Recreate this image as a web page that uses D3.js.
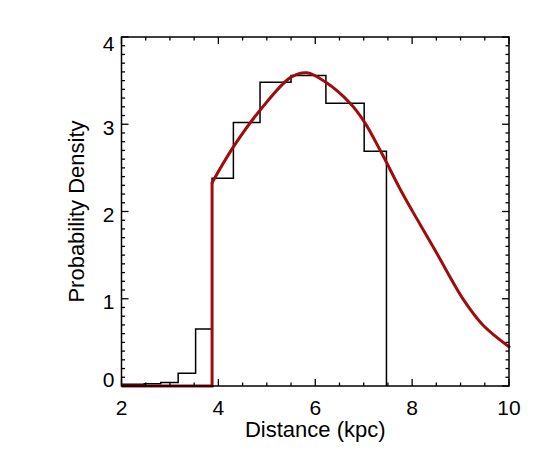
<!DOCTYPE html>
<html>
<head>
<meta charset="utf-8">
<script src="https://cdn.jsdelivr.net/npm/d3@7"></script>
<style>
  body { margin: 0; background: #fff; }
  text { font-family: "Liberation Sans", Arial, Helvetica, sans-serif; fill: #000; }
</style>
</head>
<body>
<div id="chart"></div>
<script>
// histogram bin edges (kpc) and density per bin
var binEdges = [2.0, 2.47, 2.81, 3.17, 3.53, 3.87, 4.31, 4.86, 5.50, 6.22, 7.01, 7.47];
var binDensity = [0.02, 0.025, 0.04, 0.146, 0.653, 2.38, 3.02, 3.48, 3.56, 3.24, 2.69];

// model curve
var curveDist = [2.0, 3.87, 3.87, 4.31, 4.86, 5.5, 5.83, 6.22, 6.72, 7.01, 7.37, 7.74, 8.0, 8.5, 9.06, 9.46, 10.0];
var curveDensity = [0, 0, 2.33, 2.74, 3.16, 3.54, 3.59, 3.48, 3.24, 3.03, 2.67, 2.27, 2.01, 1.53, 0.99, 0.70, 0.45];

var xTicks = [2, 4, 6, 8, 10];
var yTicks = [0, 1, 2, 3, 4];

var width = 545, height = 463;
var margin = {top: 37, right: 36, bottom: 77, left: 121.5};

var svg = d3.select("#chart").append("svg")
	.attr("width", width)
	.attr("height", height);

var x = d3.scaleLinear().domain([2, 10]).range([margin.left, width - margin.right]);
var y = d3.scaleLinear().domain([0, 4]).range([height - margin.bottom, margin.top]);

// histogram as a step line
var steps = [];
binDensity.forEach(function(v, i) {
	steps.push([binEdges[i], v]);
	steps.push([binEdges[i + 1], v]);
});
steps.push([binEdges[binEdges.length - 1], 0]);

var line = d3.line()
	.x(function(d) { return x(d[0]); })
	.y(function(d) { return y(d[1]); });

svg.append("path")
	.attr("d", line(steps))
	.attr("fill", "none")
	.attr("stroke", "#000")
	.attr("stroke-width", 1.5);

// model curve: flat part + jump, then smooth part
var pts = curveDist.map(function(d, i) { return [d, curveDensity[i]]; });
var red = "#a00c0c";
svg.append("path")
	.attr("d", line(pts.slice(0, 3)))
	.attr("fill", "none")
	.attr("stroke", red)
	.attr("stroke-width", 3);
svg.append("path")
	.attr("d", line.curve(d3.curveCatmullRom.alpha(0.5))(pts.slice(2)))
	.attr("fill", "none")
	.attr("stroke", red)
	.attr("stroke-width", 3)
	.attr("stroke-linecap", "round");

// axes frame with inward ticks on all sides
var x0 = x.range()[0], x1 = x.range()[1], y0 = y.range()[0], y1 = y.range()[1];
svg.append("rect")
	.attr("x", x0).attr("y", y1)
	.attr("width", x1 - x0).attr("height", y0 - y1)
	.attr("fill", "none")
	.attr("stroke", "#000")
	.attr("stroke-width", 1.5);

var g = svg.append("g").attr("stroke", "#000").attr("stroke-width", 1.3);
d3.range(2, 10.01, 0.5).forEach(function(t) {
	var len = (t % 2 === 0) ? 7 : 3.5;
	g.append("line").attr("x1", x(t)).attr("x2", x(t)).attr("y1", y0).attr("y2", y0 - len);
	g.append("line").attr("x1", x(t)).attr("x2", x(t)).attr("y1", y1).attr("y2", y1 + len);
});
d3.range(0, 41).forEach(function(k) {
	var t = k / 10;
	var len = (k % 10 === 0) ? 7 : 3.5;
	g.append("line").attr("x1", x0).attr("x2", x0 + len).attr("y1", y(t)).attr("y2", y(t));
	g.append("line").attr("x1", x1).attr("x2", x1 - len).attr("y1", y(t)).attr("y2", y(t));
});

// tick labels
svg.selectAll(".xl").data(xTicks).enter().append("text")
	.attr("x", function(d) { return x(d); })
	.attr("y", y0 + 29)
	.attr("text-anchor", "middle")
	.style("font-size", "21px")
	.text(function(d) { return d; });

svg.selectAll(".yl").data(yTicks).enter().append("text")
	.attr("x", x0 - 7)
	.attr("y", function(d) { return Math.max(y1 + 7, Math.min(y0 - 6, y(d) + 3)); })
	.attr("dy", "0.35em")
	.attr("text-anchor", "end")
	.style("font-size", "21px")
	.text(function(d) { return d; });

// axis titles
svg.append("text")
	.attr("x", (x0 + x1) / 2)
	.attr("y", 437)
	.attr("text-anchor", "middle")
	.style("font-size", "22px")
	.text("Distance (kpc)");

svg.append("text")
	.attr("transform", "translate(84," + ((y0 + y1) / 2) + ") rotate(-90)")
	.attr("text-anchor", "middle")
	.style("font-size", "22px")
	.text("Probability Density");
</script>
</body>
</html>
